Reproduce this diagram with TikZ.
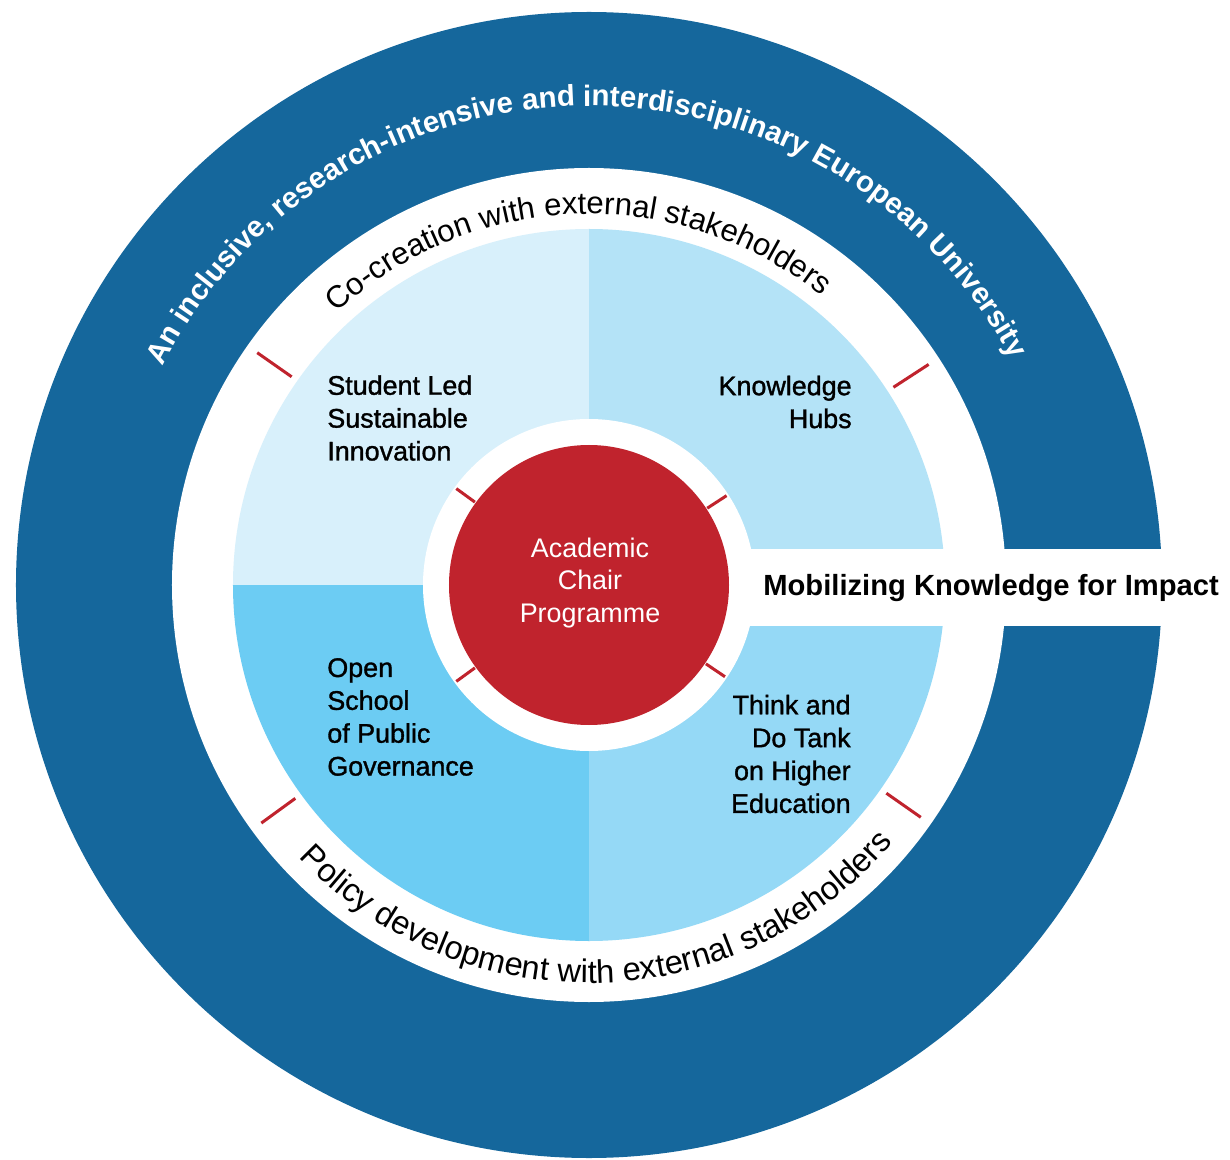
\documentclass[tikz,border=0pt]{standalone}
\usepackage{fontspec}
\setmainfont{Liberation Sans}
\newfontfamily\medfont[FakeBold=1.2]{Liberation Sans}
\usetikzlibrary{decorations.text, positioning}
\definecolor{ringblue}{HTML}{15679C}
\definecolor{chairred}{HTML}{C0232D}
\definecolor{qtl}{HTML}{D8F0FB}
\definecolor{qtr}{HTML}{B4E3F7}
\definecolor{qbl}{HTML}{6CCCF3}
\definecolor{qbr}{HTML}{95D9F6}
\def\quadsize{\fontsize{15.3pt}{18.7pt}\selectfont}
\def\arcsize{\fontsize{16.8pt}{19pt}\selectfont}
\def\cocsize{\fontsize{17.7pt}{20pt}\selectfont}
\def\polsize{\fontsize{18.6pt}{21pt}\selectfont}
\tikzstyle{quad} = [font=\medfont\quadsize, inner sep=0pt, text=black]
\tikzstyle{chair} = [font=\quadsize, inner sep=0pt, text=white, align=center]
\tikzstyle{impact} = [font=\bfseries\fontsize{16.6pt}{19pt}\selectfont, inner sep=0pt, anchor=west]
\tikzstyle{redtick} = [draw=chairred, line width=0.6mm]

\begin{document}
\begin{tikzpicture}[x=0.2mm, y=0.2mm]
  \useasboundingbox (-589,-574) rectangle (641,585);

  % rings
  \fill[ringblue] (0,0) circle[radius=573];
  \fill[white] (0,0) circle[radius=417];
  \fill[qtl] (0,0) -- (90:356) arc[start angle=90, end angle=180, radius=356] -- cycle;
  \fill[qtr] (0,0) -- (0:356) arc[start angle=0, end angle=90, radius=356] -- cycle;
  \fill[qbl] (0,0) -- (180:356) arc[start angle=180, end angle=270, radius=356] -- cycle;
  \fill[qbr] (0,0) -- (270:356) arc[start angle=270, end angle=360, radius=356] -- cycle;
  \fill[white] (0,0) circle[radius=166];
  \fill[white] (0,-41) rectangle (641,36);
  \fill[chairred] (0,0) circle[radius=140];

  \foreach \a/\b in {145/144, 33/33, -35/-34, -144/-144} {
    \draw[redtick] (\a:363) -- (\a:405);
    \draw[redtick] (\b:141) -- (\b:164);
  }

  % curved labels
  \path[decorate, decoration={text along path, text align=center,
    text={|\bfseries\arcsize\color{white}|An inclusive, research-intensive and interdisciplinary European University}}]
    (180.5:479) arc[start angle=180.5, end angle=0.5, radius=479];
  \path[decorate, decoration={text along path, text align=center,
    text={|\cocsize|Co-creation with external stakeholders}}]
    (182:371) arc[start angle=182, end angle=2, radius=371];
  \path[decorate, decoration={text along path, text align=center,
    text={|\polsize|Policy development with external stakeholders}}]
    (-178.5:398) arc[start angle=-178.5, end angle=1.5, radius=398];

  \node (chairprog) [chair] at (1,2) {Academic\\Chair\\Programme};
  \node (studentled) [quad, align=left, anchor=west] at (-262,167) {Student Led\\Sustainable\\Innovation};
  \node (hubs) [quad, align=right, anchor=east] at (263,183) {Knowledge\\Hubs};
  \node (openschool) [quad, align=left, anchor=west] at (-262,-132) {Open\\School\\of Public\\Governance};
  \node (thinktank) [quad, align=right, anchor=east] at (262,-169) {Think and\\Do Tank\\on Higher\\Education};
  \node (mobilizing) [impact] at (174,-3) {Mobilizing Knowledge for Impact};

\end{tikzpicture}
\end{document}
